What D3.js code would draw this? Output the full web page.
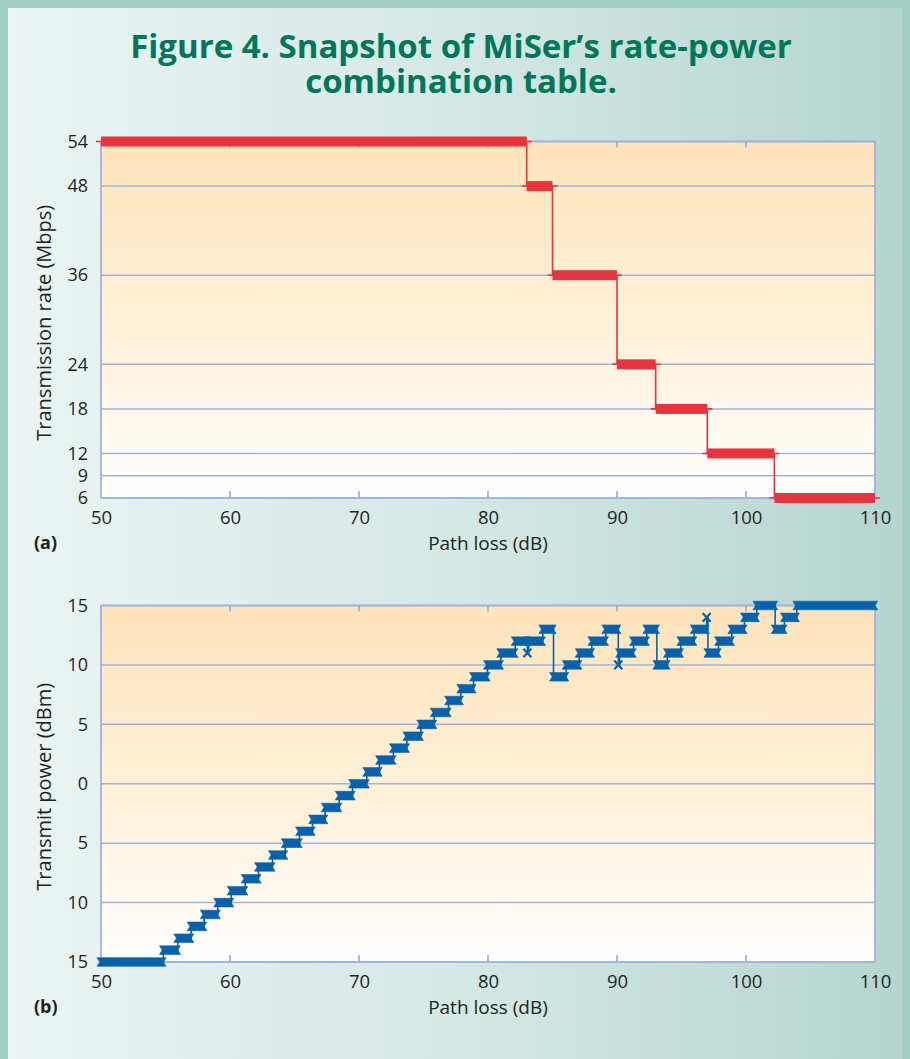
<!DOCTYPE html>
<html><head><meta charset="utf-8">
<script src="https://cdn.jsdelivr.net/npm/d3@7/dist/d3.min.js"></script>
<style>body{margin:0;background:#fff;} svg{display:block;}</style>
</head><body><svg id="c" width="910" height="1059"></svg>
<script>
// ---------- data ----------
const titleLines = ["Figure 4. Snapshot of MiSer\u2019s rate-power", "combination table."];
const pathLossTicks = [50, 60, 70, 80, 90, 100, 110];
const rateTicks = [6, 9, 12, 18, 24, 36, 48, 54];
const powerTicks = [-15, -10, -5, 0, 5, 10, 15];

// rate steps: rate value held from rateStarts[i] until the next start
const rateStarts = [50, 83, 85, 90, 93, 97, 102.2];
const rateValues = [54, 48, 36, 24, 18, 12, 6];

// power steps: power value held from powerStarts[i] until the next start
const powerStarts = [50, 54.84, 55.95, 56.99, 58.0, 59.05, 60.09, 61.18, 62.21, 63.29,
  64.28, 65.39, 66.40, 67.38, 68.47, 69.50, 70.60, 71.59, 72.67, 73.71,
  74.79, 75.83, 76.94, 77.89, 78.88, 79.96, 80.99, 82.11, 83.05, 83.15,
  84.25, 85.08, 86.06, 87.07, 88.05, 89.13, 90.10, 90.20, 91.28, 92.31,
  93.09, 93.91, 94.95, 95.98, 96.95, 97.05, 97.87, 98.90, 99.88, 100.84,
  102.26, 102.98, 103.94];
const powerValues = [-15, -14, -13, -12, -11, -10, -9, -8, -7, -6,
  -5, -4, -3, -2, -1, 0, 1, 2, 3, 4,
  5, 6, 7, 8, 9, 10, 11, 12, 11, 12,
  13, 9, 10, 11, 12, 13, 10, 11, 12, 13,
  10, 11, 12, 13, 14, 11, 12, 13, 14, 15,
  13, 14, 15];
const pathLossEnd = 110;

// ---------- drawing ----------
const W = 910, H = 1059;
const svg = d3.select("#c");
const defs = svg.append("defs");

const bg = defs.append("linearGradient").attr("id", "bg").attr("x1", 0).attr("x2", 1).attr("y1", 0).attr("y2", 0);
bg.append("stop").attr("offset", 0).attr("stop-color", "#ebf4f3");
bg.append("stop").attr("offset", 0.5).attr("stop-color", "#d5e8e5");
bg.append("stop").attr("offset", 1).attr("stop-color", "#b5d5cf");

const pg = defs.append("linearGradient").attr("id", "pg").attr("x1", 0).attr("x2", 0).attr("y1", 0).attr("y2", 1);
pg.append("stop").attr("offset", 0).attr("stop-color", "#fee4bb");
pg.append("stop").attr("offset", 0.55).attr("stop-color", "#fff1da");
pg.append("stop").attr("offset", 1).attr("stop-color", "#ffffff");

svg.append("rect").attr("width", W).attr("height", H).attr("fill", "#a2cdc4");
svg.append("rect").attr("x", 8).attr("y", 8).attr("width", W - 16).attr("height", H - 8).attr("fill", "url(#bg)");

// title (one text block, two lines)
const title = svg.append("text")
  .attr("text-anchor", "middle")
  .attr("font-family", "'Open Sans', sans-serif").attr("font-weight", 700)
  .attr("font-size", 33).attr("fill", "#00775b");
title.selectAll("tspan").data(titleLines).join("tspan")
  .attr("x", 461).attr("y", (d, i) => 58 + i * 35)
  .text(d => d);

const FONT = "'Open Sans', sans-serif";
const gridColor = "#9fb3dc";

function panel(opts) {
  const { y0, y1, yDomain, yTicks, yFmt, yLabel, tag } = opts;
  const x = d3.scaleLinear().domain([50, 110]).range([101, 875]);
  const y = d3.scaleLinear().domain(yDomain).range([y1, y0]);
  const g = svg.append("g");
  g.append("rect").attr("x", 101).attr("y", y0).attr("width", 774).attr("height", y1 - y0).attr("fill", "url(#pg)");
  // grid
  g.append("g").selectAll("line").data(yTicks).join("line")
    .attr("x1", 101).attr("x2", 875).attr("y1", d => y(d)).attr("y2", d => y(d))
    .attr("stroke", gridColor).attr("stroke-width", 1.5);
  // border
  g.append("rect").attr("x", 101).attr("y", y0).attr("width", 774).attr("height", y1 - y0)
    .attr("fill", "none").attr("stroke", gridColor).attr("stroke-width", 1.8);
  // x ticks inside top and bottom
  const inner = pathLossTicks.slice(1, -1);
  g.append("g").selectAll("line").data(inner).join("line")
    .attr("x1", d => x(d)).attr("x2", d => x(d)).attr("y1", y0).attr("y2", y0 + 6)
    .attr("stroke", gridColor).attr("stroke-width", 1.8);
  g.append("g").selectAll("line").data(inner).join("line")
    .attr("x1", d => x(d)).attr("x2", d => x(d)).attr("y1", y1).attr("y2", y1 - 7)
    .attr("stroke", gridColor).attr("stroke-width", 1.8);
  // axes labels via d3 axis (styled)
  const xa = g.append("g").attr("transform", `translate(0,${y1})`)
    .call(d3.axisBottom(x).tickValues(pathLossTicks).tickSize(0).tickPadding(10).tickFormat(d3.format("d")));
  const ya = g.append("g").attr("transform", `translate(101,0)`)
    .call(d3.axisLeft(y).tickValues(yTicks).tickSize(0).tickPadding(13).tickFormat(yFmt));
  [xa, ya].forEach(a => {
    a.select(".domain").remove();
    a.selectAll("text").attr("font-family", FONT).attr("font-size", 18.5).attr("fill", "#231f20");
  });
  ya.selectAll("text").attr("font-size", 18);
  xa.selectAll("text").attr("y", 26).attr("dy", 0);
  g.append("text").attr("x", 488).attr("y", y1 + 52).attr("text-anchor", "middle")
    .attr("font-family", FONT).attr("font-size", 19).attr("fill", "#231f20").text("Path loss (dB)");
  g.append("text").attr("x", 34).attr("y", y1 + 51)
    .attr("font-family", FONT).attr("font-weight", 700).attr("font-size", 18).attr("fill", "#231f20").text(tag);
  g.append("text").attr("transform", `translate(51,${(y0 + y1) / 2 + 3}) rotate(-90)`).attr("text-anchor", "middle")
    .attr("font-family", FONT).attr("font-size", 20).attr("fill", "#231f20").text(yLabel);
  return { x, y, g };
}

// ---- panel (a): transmission rate ----
const A = panel({ y0: 141.5, y1: 498, yDomain: [6, 54], yTicks: rateTicks, yFmt: d3.format("d"),
  yLabel: "Transmission rate (Mbps)", tag: "(a)" });
const rateSegs = rateStarts.map((s, i) => ({ s, e: i < rateStarts.length - 1 ? rateStarts[i + 1] : pathLossEnd, v: rateValues[i] }));
const red = "#e5353f";
A.g.append("path")
  .datum(rateSegs.map(d => [d.s, d.v]).concat([[pathLossEnd, rateValues[rateValues.length - 1]]]))
  .attr("d", d3.line().x(d => A.x(d[0])).y(d => A.y(d[1])).curve(d3.curveStepAfter))
  .attr("fill", "none").attr("stroke", red).attr("stroke-width", 1.6);
A.g.append("g").selectAll("rect").data(rateSegs).join("rect")
  .attr("x", d => A.x(d.s)).attr("width", d => A.x(d.e) - A.x(d.s))
  .attr("y", d => A.y(d.v) - 5).attr("height", 10).attr("fill", red);
A.g.append("g").selectAll("line").data(rateSegs).join("line")
  .attr("x1", d => A.x(d.s) - 5).attr("x2", d => A.x(d.e) + 5)
  .attr("y1", d => A.y(d.v)).attr("y2", d => A.y(d.v))
  .attr("stroke", red).attr("stroke-width", 1.6);

// ---- panel (b): transmit power ----
const B = panel({ y0: 605.5, y1: 962, yDomain: [-15, 15], yTicks: powerTicks, yFmt: d => String(Math.abs(d)),
  yLabel: "Transmit power (dBm)", tag: "(b)" });
const blue = "#0861ab";
const powSegs = powerStarts.map((s, i) => ({ s, e: i < powerStarts.length - 1 ? powerStarts[i + 1] : pathLossEnd, v: powerValues[i] }));
B.g.append("path")
  .datum(powSegs.map(d => [d.s, d.v]).concat([[pathLossEnd, powerValues[powerValues.length - 1]]]))
  .attr("d", d3.line().x(d => B.x(d[0])).y(d => B.y(d[1])).curve(d3.curveStepAfter))
  .attr("fill", "none").attr("stroke", blue).attr("stroke-width", 1.6);
const hw = 4, hh = 4.3;
B.g.append("g").selectAll("path").data(powSegs).join("path")
  .attr("d", d => {
    const xs = B.x(d.s), y = B.y(d.v);
    if (d.e - d.s < 0.15) {
      return `M${xs - hw},${y - hh}L${xs + hw},${y + hh}M${xs + hw},${y - hh}L${xs - hw},${y + hh}`;
    }
    const xe = B.x(d.e) - 1.3;
    return `M${xs - hw},${y - hh}L${xe + hw},${y - hh}L${xe + 1.3},${y}L${xe + hw},${y + hh}L${xs - hw},${y + hh}L${xs - 1.3},${y}Z`;
  })
  .attr("fill", d => (d.e - d.s < 0.15) ? "none" : blue)
  .attr("stroke", blue).attr("stroke-width", d => (d.e - d.s < 0.15) ? 2.2 : 0.6);
</script>
</body></html>
